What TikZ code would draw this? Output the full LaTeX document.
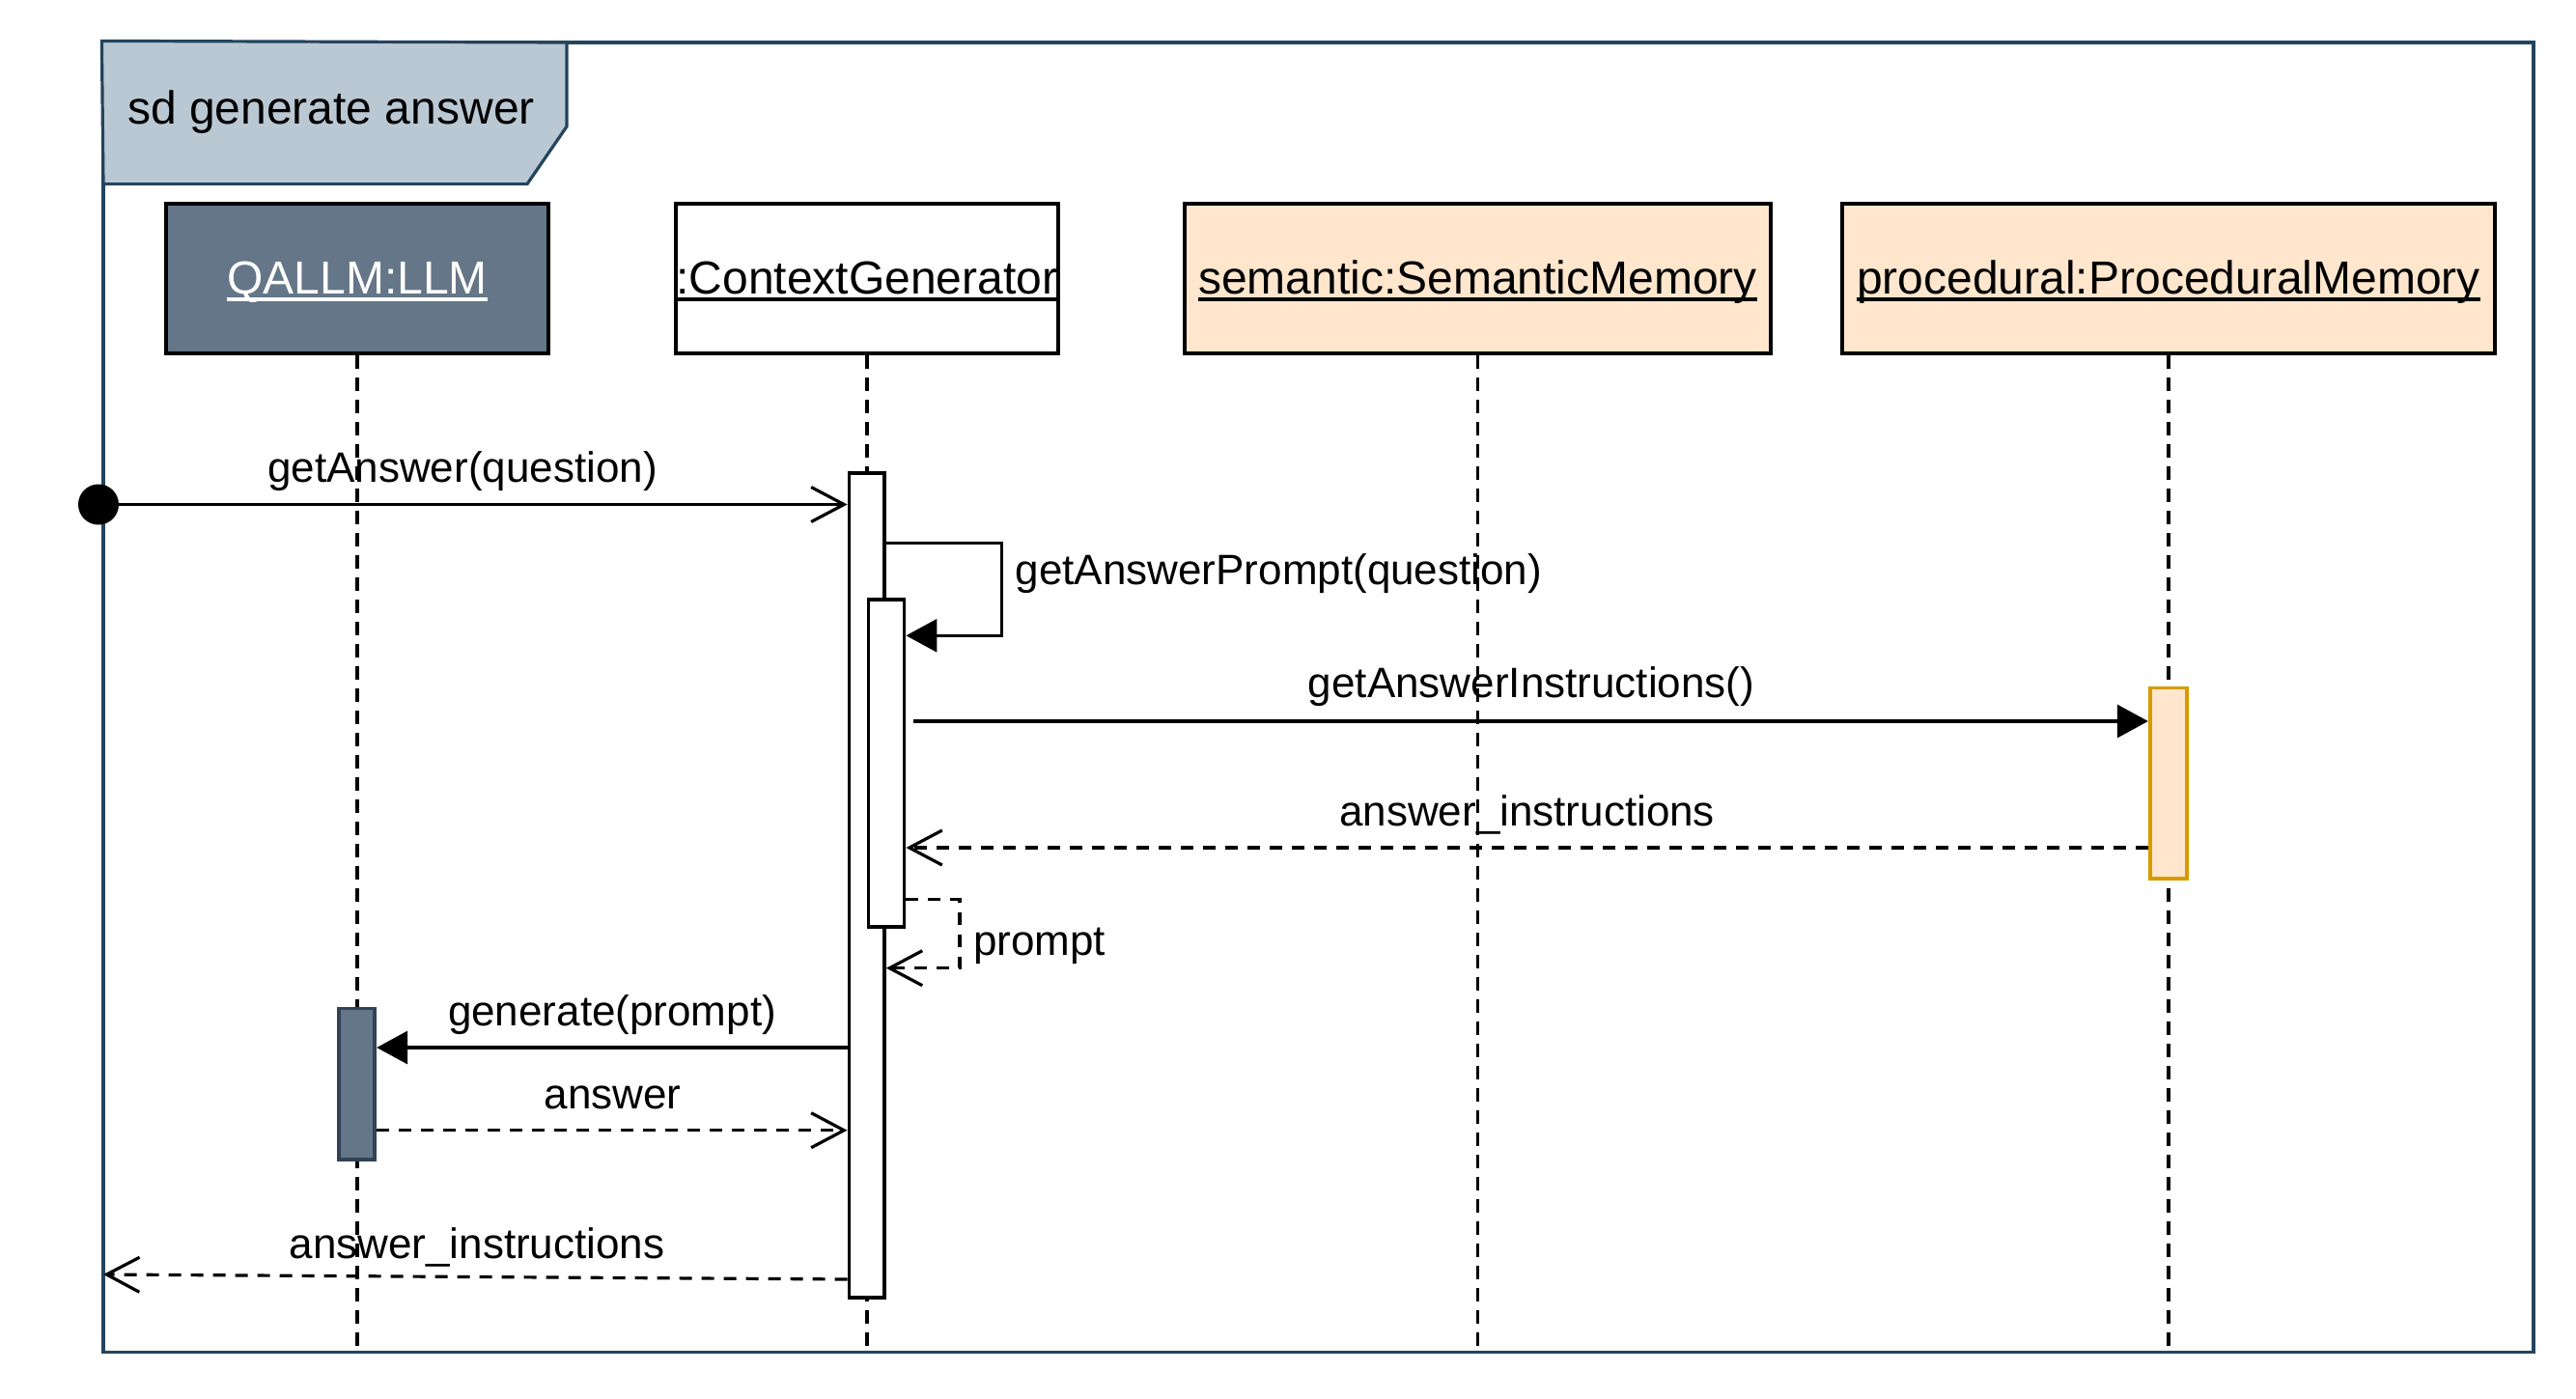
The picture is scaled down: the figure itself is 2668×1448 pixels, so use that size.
\documentclass[tikz,border=0pt]{standalone}
\usepackage{fontspec}
\setmainfont{Liberation Sans}
\usetikzlibrary{arrows.meta}
\definecolor{framec}{HTML}{23445D}
\definecolor{labelfill}{HTML}{BAC8D3}
\definecolor{llmfill}{HTML}{647687}
\definecolor{llmstroke}{HTML}{314354}
\definecolor{memfill}{HTML}{FFE6CC}
\definecolor{memstroke}{HTML}{D79B00}
\newcommand\myul[1]{\setbox0\hbox{#1}\rlap{\rule[-0.16em]{\wd0}{0.07em}}\box0}
\begin{document}
\begin{tikzpicture}[x=1pt,y=-1pt,
  hdr/.style={font=\fontsize{48}{58}\selectfont},
  msgfont/.style={font=\fontsize{44}{53}\selectfont, inner sep=0pt},
  headbox/.style={draw=black, line width=4.5pt, minimum height=155pt, inner sep=0pt,
    text height=36pt, text depth=5pt, hdr},
  life/.style={line width=3.8pt, dash pattern=on 14pt off 9pt},
  act/.style={draw=black, fill=white, line width=3.8pt, inner sep=0pt},
  call/.style={line width=3.2pt, -{Triangle[length=32pt,width=34pt]}},
  ret/.style={line width=3.2pt, dash pattern=on 13pt off 10pt, -{Straight Barb[length=34pt,width=36pt]}},
  async/.style={line width=3.2pt, -{Straight Barb[length=34pt,width=36pt]}}
]
\useasboundingbox (0,0) rectangle (2668,1448);
\fill[white] (0,0) rectangle (2668,1448);

% frame
\node[draw=framec, line width=3.2pt, minimum width=2517pt, minimum height=1356.5pt, inner sep=0pt] (frame) at (1365.5,722.25) {};
\draw[draw=framec, fill=labelfill, line width=3.2pt] (frame.north west) -- (587,44) -- (587,131) -- (546,190.6) -- (107,190.6) -- cycle;
\node[hdr, anchor=west, inner sep=0pt] (title) at (132,116) {sd generate answer};

% lifeline heads
\node[headbox, fill=llmfill, text=white, minimum width=396pt] (llm) at (370,288.5) {\myul{QALLM:LLM}};
\node[headbox, fill=white, minimum width=396pt] (ctx) at (897.75,288.5) {\myul{:ContextGenerator}};
\node[headbox, fill=memfill, minimum width=607pt] (sem) at (1530.5,288.5) {\myul{semantic:SemanticMemory}};
\node[headbox, fill=memfill, minimum width=676pt] (proc) at (2246,288.5) {\myul{procedural:ProceduralMemory}};

\coordinate (bottom) at (0,1402);
\draw[life] (llm.south) -- (llm.south |- bottom);
\draw[life] (ctx.south) -- (ctx.south |- bottom);
\draw[life] (sem.south) -- (sem.south |- bottom);
\draw[life] (proc.south) -- (proc.south |- bottom);

% activations
\node[act, minimum width=36.5pt, minimum height=854.5pt] (outer) at (897.7,917) {};
\node[act, minimum width=37pt, minimum height=339.5pt] (inner) at (918,790.5) {};
\node[act, draw=memstroke, fill=memfill, minimum width=38.5pt, minimum height=197.8pt] (pact) at (2246,811.3) {};
\node[act, draw=llmstroke, fill=llmfill, minimum width=37.5pt, minimum height=156.8pt] (lact) at (369.5,1122.8) {};

% start dot
\node[circle, fill=black, minimum size=42pt, inner sep=0pt] (start) at (102,522.5) {};

% message levels
\coordinate (m2a) at (0,562.7);
\coordinate (loopA) at (1037.7,610);
\coordinate (m2b) at (0,658.3);
\coordinate (m3) at (0,747);
\coordinate (m4) at (0,878);
\coordinate (m5a) at (0,931.7);
\coordinate (loopB) at (994,965);
\coordinate (m5b) at (0,1002.7);
\coordinate (m6) at (0,1085);
\coordinate (m7) at (0,1170.7);
\coordinate (m8) at (0,1325);
\coordinate (endL) at (107,1320);

% messages
\draw[async] (start) -- (outer.west |- start);
\node[msgfont] (l1) at (479,488.5) {getAnswer(question)};

\draw[call] (outer.east |- m2a) -| (loopA) |- (inner.east |- m2b);
\node[msgfont, anchor=west] (l2) at (1051.5,594) {getAnswerPrompt(question)};

\draw[call] ([xshift=8pt]inner.east |- m3) -- (pact.west |- m3);
\node[msgfont] (l3) at (1586,711.5) {getAnswerInstructions()};

\draw[ret] (pact.west |- m4) -- (inner.east |- m4);
\node[msgfont] (l4) at (1581.6,844) {answer\_instructions};

\draw[ret] (inner.east |- m5a) -| (loopB) |- (outer.east |- m5b);
\node[msgfont, anchor=west] (l5) at (1008,979.5) {prompt};

\draw[call] (outer.west |- m6) -- (lact.east |- m6);
\node[msgfont] (l6) at (634,1051.5) {generate(prompt)};

\draw[ret] (lact.east |- m7) -- (outer.west |- m7);
\node[msgfont] (l7) at (634.6,1136.5) {answer};

\draw[ret] (outer.west |- m8) -- (endL);
\node[msgfont] (l8) at (494,1291.5) {answer\_instructions};
\end{tikzpicture}
\end{document}
